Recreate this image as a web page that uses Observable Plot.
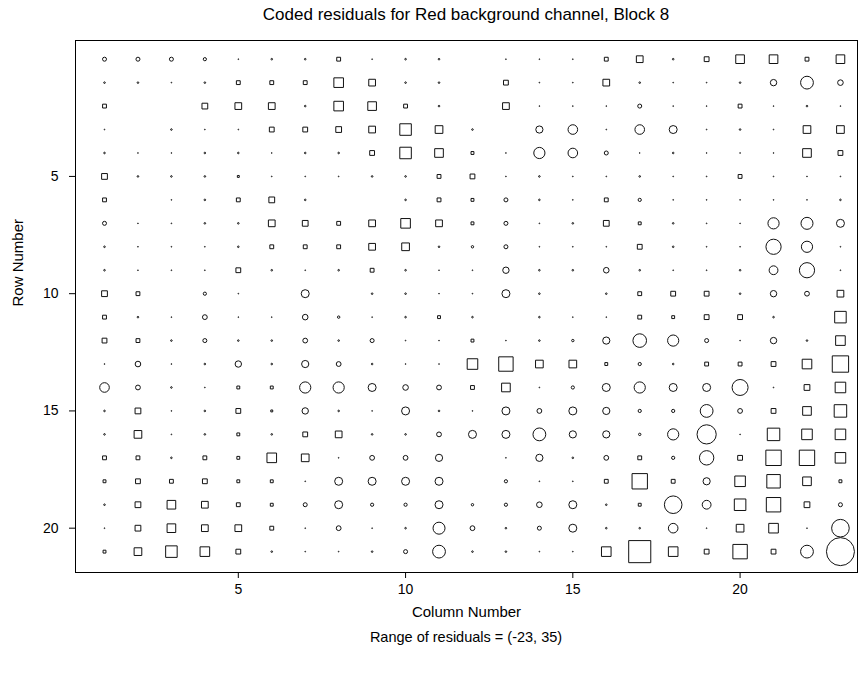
<!DOCTYPE html>
<html>
<head>
<meta charset="utf-8">
<script src="https://cdn.jsdelivr.net/npm/d3@7"></script>
<script src="https://cdn.jsdelivr.net/npm/@observablehq/plot@0.6"></script>
<style>
  html, body { margin: 0; padding: 0; background: #fff; }
  body { width: 861px; height: 686px; overflow: hidden; font-family: "Liberation Sans", Arial, Helvetica, sans-serif; color: #000; }
  .title { height: 28px; line-height: 30px; font-size: 17px; text-align: center; padding-left: 75px; padding-right: 4px; box-sizing: border-box; width: 861px; white-space: nowrap; }
  .caption { height: 26px; line-height: 26px; font-size: 14.5px; text-align: center; padding-left: 75px; padding-right: 4px; box-sizing: border-box; width: 861px; }
  #chart svg { display: block; }
</style>
</head>
<body>
<div class="title">Coded residuals for Red background channel, Block 8</div>
<div id="chart"></div>
<div class="caption">Range of residuals = (-23, 35)</div>
<script>
// Column numbers (x) and row numbers (y)
const columns = d3.range(1, 24);
const rowNumbers = d3.range(0, 22);
const xTicks = [5, 10, 15, 20];
const yTicks = [5, 10, 15, 20];

// Residuals by row (positive = circle, negative = square, 0 = nothing drawn)
const row0  = [5, 5, 5, 4, 1, 2, 2, -4, 1, 2, 2, 0, 1, 1, 1, -4, -7, 2, -5, -9, -9, -4, -9];
const row1  = [2, 2, 1, 2, -4, -4, -4, -10, -7, 2, 2, 0, -5, 1, 1, -7, 2, 1, 1, 2, 8, 16, 7];
const row2  = [-4, 0, 0, -6, -7, -7, 2, -10, -9, -4, 2, 0, -7, 1, 1, 1, 5, 1, 1, -4, 1, 2, 1];
const row3  = [1, 0, 2, 1, 1, -5, -5, -6, -7, -12, -8, 2, 0, 9, 12, 1, 12, 10, 1, 2, 1, -8, -8];
const row4  = [2, 1, 1, 2, 2, 1, 2, 2, -5, -12, -9, -3, 1, 14, 12, 5, 1, 2, 1, 1, 1, -9, -5];
const row5  = [-6, 2, 2, 2, -2, 1, 1, 1, 2, 2, -4, -5, 1, 2, 1, 1, 2, 1, 1, -4, 1, 1, 1];
const row6  = [-4, 0, 1, 2, -4, -6, 2, 0, 0, 2, -4, -3, 5, 2, 1, -4, 4, 1, 1, 1, 1, 1, 2];
const row7  = [5, 1, 1, 2, 2, -7, -6, -4, -7, -10, -7, -3, 5, 1, 2, -6, -3, 2, 1, 1, 14, 15, 10];
const row8  = [2, 1, 1, 1, 2, -4, -4, -4, -7, -8, 2, 3, 5, 1, 1, 1, -5, 2, 1, 1, 19, 14, 1];
const row9  = [2, 1, 1, 1, -5, 2, 1, 2, -4, 2, 1, 1, 8, 2, 2, 7, 2, 1, 1, 2, 11, 19, 1];
const row10 = [-6, -4, 0, 4, 1, 0, 10, 0, 2, 2, 1, 1, 10, 2, 0, 2, -4, -5, -5, 2, 8, 6, -7];
const row11 = [-4, 2, 1, 6, 1, 1, 7, 3, 1, 2, -3, 2, 0, 2, 1, 1, -4, -3, -5, -5, 2, 0, -12];
const row12 = [-5, -4, 2, 5, 2, 2, 6, 2, 5, 1, 1, -3, 1, 2, 3, 9, 17, 14, 5, 1, 8, 2, -10];
const row13 = [1, 7, 1, 2, 8, 2, 9, 6, 2, 1, 1, -11, -15, -8, -8, -3, 4, 2, -4, -4, -5, -10, -17];
const row14 = [12, 6, 2, 1, -3, -3, 14, 14, 10, 7, 6, -4, -9, 1, 4, 10, 14, 10, 10, 20, 1, -6, -11];
const row15 = [2, -6, 1, 2, -5, -2, 8, 2, 1, 10, 2, 1, 10, 6, 10, 9, 4, 4, 16, 6, -5, -9, -13];
const row16 = [2, -8, 1, 2, -3, 2, -5, -7, 2, 2, 6, 10, 10, 16, 9, 9, 3, 14, 24, 1, -13, -11, -11];
const row17 = [-4, -4, 2, -4, -3, -10, -8, 1, 6, 6, 9, 0, 1, 9, 2, 6, -4, 4, 18, -5, -16, -16, -11];
const row18 = [-3, -5, -4, -5, -3, -3, 1, 10, 10, 10, 10, 0, 4, 1, 1, -4, -16, -4, 9, -11, -14, -9, -3];
const row19 = [2, -6, -9, -7, -4, -3, 5, 10, 4, 4, 10, 3, 4, 7, 10, 2, -3, 22, 11, -12, -15, -6, 5];
const row20 = [1, -6, -9, -7, -7, -4, 1, 6, 1, 2, 15, 6, 2, 5, 10, 2, 2, 12, 1, -8, -10, 1, 22];
const row21 = [-3, -8, -12, -10, -5, 2, 1, 1, 2, 5, 16, 2, 2, 1, 1, -10, -23, -10, -5, -15, -5, 16, 35];

const residualRows = [row0, row1, row2, row3, row4, row5, row6, row7, row8, row9, row10,
  row11, row12, row13, row14, row15, row16, row17, row18, row19, row20, row21];

const cells = residualRows.flatMap((vals, i) =>
  vals.map((v, j) => ({row: rowNumbers[i], col: columns[j], v})));

const positives = cells.filter(d => d.v > 0);
const negatives = cells.filter(d => d.v < 0);

// squares are drawn a little larger per unit than circles (side vs diameter)
const squareFactor = 1.354;

const ink = "#111";

const chart = Plot.plot({
  width: 861,
  height: 596,
  marginLeft: 75,
  marginRight: 4,
  marginTop: 12,
  marginBottom: 52,
  style: {fontFamily: "'Liberation Sans', Arial, Helvetica, sans-serif", fontSize: "14px", color: "#000", background: "#fff"},
  x: {domain: [0.133, 23.51], axis: null},
  y: {domain: [21.89, -0.797], axis: null},
  r: {type: "linear", domain: [0, 35], range: [0, 14]},
  marks: [
    Plot.frame({stroke: "#000", strokeWidth: 1}),
    Plot.axisX({ticks: xTicks, tickSize: 6, tickPadding: 6, tickFormat: d => String(d), label: null, stroke: "#000", fill: "#000", fontSize: 14}),
    Plot.axisY({ticks: yTicks, tickSize: 6, tickPadding: 11, tickFormat: d => String(d), label: null, stroke: "#000", fill: "#000", fontSize: 14}),
    Plot.dot(positives, {x: "col", y: "row", r: "v", symbol: "circle", stroke: ink, strokeWidth: 1, fill: "none"}),
    Plot.dot(negatives, {x: "col", y: "row", r: d => -d.v * squareFactor, symbol: "square", stroke: ink, strokeWidth: 1, fill: "none"}),
    Plot.text(["Column Number"], {text: d => d, frameAnchor: "bottom", dy: 40, lineAnchor: "middle", fontSize: 15, fill: "#000"}),
    Plot.text(["Row Number"], {text: d => d, frameAnchor: "left", dx: -57, rotate: -90, lineAnchor: "middle", fontSize: 15, fill: "#000"})
  ]
});
document.getElementById("chart").appendChild(chart);
</script>
</body>
</html>
